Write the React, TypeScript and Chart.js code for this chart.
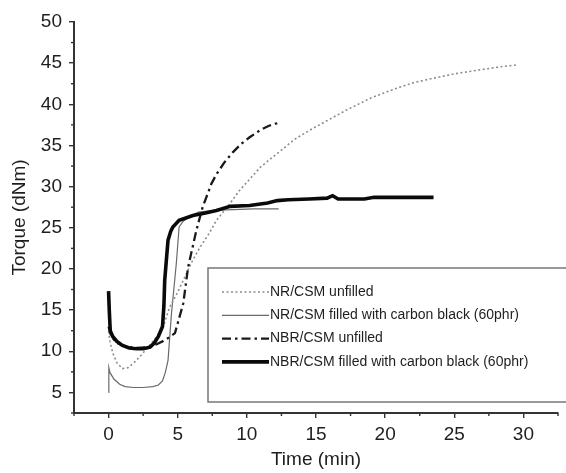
import React, { useEffect, useRef } from "react";
import { Chart, registerables } from "chart.js";

Chart.register(...registerables);

// ---------------- data ----------------
const seriesLabels = [
  "NR/CSM unfilled",
  "NR/CSM filled with carbon black (60phr)",
  "NBR/CSM unfilled",
  "NBR/CSM filled with carbon black (60phr)",
];

const nrUnfilledTime = [0, 0.1, 0.3, 0.6, 1.0, 1.4, 1.9, 2.4, 3.0, 3.5, 4.0, 4.4, 5.0, 5.4, 6.0, 6.6, 7.3, 7.8, 8.8, 9.5, 10.2, 11.0, 12.4, 13.5, 14.8, 16.0, 17.2, 19.0, 20.9, 22.0, 23.3, 25.0, 26.9, 28.5, 29.6];
const nrUnfilledTorque = [12.4, 11.2, 9.8, 8.6, 7.9, 8.0, 8.7, 9.6, 10.8, 11.8, 13.2, 15.3, 17.2, 18.6, 20.8, 22.6, 24.4, 25.9, 28.0, 29.6, 30.9, 32.4, 34.3, 35.8, 37.1, 38.2, 39.3, 40.8, 42.0, 42.6, 43.1, 43.7, 44.2, 44.6, 44.8];

const nrFilledTime = [0, 0.02, 0.1, 0.4, 0.8, 1.2, 1.8, 2.5, 3.2, 3.6, 3.9, 4.1, 4.3, 4.55, 4.9, 5.1, 5.4, 5.9, 6.5, 7.5, 9.0, 10.5, 12.3];
const nrFilledTorque = [5.0, 8.0, 7.4, 6.6, 6.0, 5.7, 5.6, 5.6, 5.7, 5.9, 6.4, 7.4, 8.9, 14.6, 20.7, 25.1, 25.8, 26.4, 26.9, 27.1, 27.2, 27.3, 27.3];

const nbrUnfilledTime = [0, 0.2, 0.6, 1.2, 2.0, 2.8, 3.4, 3.9, 4.4, 4.8, 5.4, 5.75, 6.35, 6.8, 7.45, 7.8, 8.4, 9.0, 9.6, 10.2, 11.0, 11.6, 12.2];
const nbrUnfilledTorque = [13.0, 11.8, 11.0, 10.6, 10.4, 10.5, 10.8, 11.2, 11.7, 12.2, 15.8, 20.2, 24.7, 27.5, 30.4, 31.5, 33.0, 34.2, 35.2, 36.0, 36.9, 37.4, 37.7];

const nbrFilledTime = [0, 0.05, 0.12, 0.3, 0.6, 1.0, 1.5, 2.0, 2.5, 3.0, 3.3, 3.6, 3.9, 4.0, 4.06, 4.2, 4.3, 4.5, 4.65, 5.1, 6.1, 7.0, 7.8, 8.8, 10.2, 11.5, 12.2, 13.0, 14.5, 15.8, 16.2, 16.6, 18.5, 19.2, 21.0, 23.5];
const nbrFilledTorque = [17.3, 15.0, 12.5, 11.8, 11.2, 10.7, 10.4, 10.3, 10.3, 10.5, 11.0, 11.8, 13.0, 15.5, 18.6, 21.5, 23.5, 24.6, 25.1, 25.9, 26.5, 26.8, 27.1, 27.6, 27.7, 28.0, 28.3, 28.4, 28.5, 28.6, 28.9, 28.5, 28.5, 28.7, 28.7, 28.7];

const xMajorTicks = [0, 5, 10, 15, 20, 25, 30];
const yMajorTicks = [5, 10, 15, 20, 25, 30, 35, 40, 45, 50];

const xTitle = "Time (min)";
const yTitle = "Torque (dNm)";

// ---------------- helpers ----------------
const toPoints = (t: number[], v: number[]) => t.map((x, i) => ({ x, y: v[i] }));

const seriesStyles = [
  { color: "#8c8c8c", width: 1.6, dash: [2, 2.5] },
  { color: "#6a6a6a", width: 1.2, dash: [] as number[] },
  { color: "#1a1a1a", width: 2.3, dash: [9, 4, 2.5, 4] },
  { color: "#0a0a0a", width: 3.6, dash: [] as number[] },
];

const minorTickPlugin = {
  id: "minorTicks",
  afterDraw(chart: any) {
    const { ctx } = chart;
    const xs = chart.scales.x;
    const ys = chart.scales.y;
    ctx.save();
    ctx.strokeStyle = "#333";
    ctx.lineWidth = 1.4;
    for (let v = xs.min; v <= xs.max + 1e-6; v += 2.5) {
      if (xMajorTicks.some((m) => Math.abs(m - v) < 1e-6)) continue;
      const px = xs.getPixelForValue(v);
      ctx.beginPath();
      ctx.moveTo(px, xs.top);
      ctx.lineTo(px, xs.top + 3);
      ctx.stroke();
    }
    for (let v = ys.min; v <= ys.max + 1e-6; v += 2.5) {
      if (yMajorTicks.some((m) => Math.abs(m - v) < 1e-6)) continue;
      const py = ys.getPixelForValue(v);
      ctx.beginPath();
      ctx.moveTo(ys.right, py);
      ctx.lineTo(ys.right - 3, py);
      ctx.stroke();
    }
    ctx.restore();
  },
};

const legendBoxPlugin = {
  id: "legendBox",
  afterDraw(chart: any) {
    const { ctx, chartArea, width } = chart;
    const left = chartArea.left + 134;
    const top = 268;
    const bottom = 402;
    ctx.save();
    ctx.fillStyle = "#ffffff";
    ctx.fillRect(left, top, width - left + 5, bottom - top);
    ctx.strokeStyle = "#777";
    ctx.lineWidth = 1.5;
    ctx.strokeRect(left, top, width - left + 5, bottom - top);
    ctx.font = "14px 'Liberation Sans', Arial, sans-serif";
    ctx.textBaseline = "middle";
    ctx.fillStyle = "#1e1e1e";
    seriesLabels.forEach((label, i) => {
      const y = 292 + i * 23.3;
      const st = seriesStyles[i];
      ctx.beginPath();
      ctx.strokeStyle = st.color;
      ctx.lineWidth = st.width;
      ctx.setLineDash(st.dash);
      ctx.moveTo(left + 14, y);
      ctx.lineTo(left + 61, y);
      ctx.stroke();
      ctx.setLineDash([]);
      ctx.fillText(label, left + 62, y);
    });
    ctx.restore();
  },
};

export default function App() {
  const ref = useRef<HTMLCanvasElement | null>(null);

  useEffect(() => {
    if (!ref.current) return;
    Chart.defaults.font.family = "'Liberation Sans', Arial, sans-serif";
    const series = [
      toPoints(nrUnfilledTime, nrUnfilledTorque),
      toPoints(nrFilledTime, nrFilledTorque),
      toPoints(nbrUnfilledTime, nbrUnfilledTorque),
      toPoints(nbrFilledTime, nbrFilledTorque),
    ];
    const orders = [2, 3, 1, 0];
    const chart = new Chart(ref.current, {
      type: "line",
      data: {
        datasets: series.map((data, i) => ({
          label: seriesLabels[i],
          data,
          borderColor: seriesStyles[i].color,
          borderWidth: seriesStyles[i].width,
          borderDash: seriesStyles[i].dash,
          pointRadius: 0,
          tension: 0,
          fill: false,
          order: orders[i],
        })),
      },
      options: {
        animation: false,
        responsive: false,
        layout: { padding: { top: 22, right: 8, left: 0, bottom: 0 } },
        plugins: { legend: { display: false }, tooltip: { enabled: false } },
        scales: {
          x: {
            type: "linear",
            min: -2.5,
            max: 32.5,
            afterBuildTicks: (s: any) => {
              s.ticks = xMajorTicks.map((value) => ({ value }));
            },
            afterFit: (s: any) => {
              s.height = 60;
            },
            grid: { display: true, drawOnChartArea: false, drawTicks: true, tickLength: 5, color: "#333", lineWidth: 1.4 },
            border: { display: true, color: "#333", width: 2 },
            ticks: { color: "#1e1e1e", font: { size: 19 }, padding: 5, maxRotation: 0, autoSkip: false },
            title: { display: true, text: xTitle, color: "#1e1e1e", font: { size: 19 }, padding: { top: 0, bottom: 2 } },
          },
          y: {
            type: "linear",
            min: 2.5,
            max: 50,
            afterBuildTicks: (s: any) => {
              s.ticks = yMajorTicks.map((value) => ({ value }));
            },
            afterFit: (s: any) => {
              s.width = 74;
            },
            grid: { display: true, drawOnChartArea: false, drawTicks: true, tickLength: 5, color: "#333", lineWidth: 1.4 },
            border: { display: true, color: "#333", width: 2 },
            ticks: { color: "#1e1e1e", font: { size: 19 }, padding: 7, autoSkip: false },
            title: { display: true, text: yTitle, color: "#1e1e1e", font: { size: 19 }, padding: { top: 8.5, bottom: 0 } },
          },
        },
      },
      plugins: [minorTickPlugin, legendBoxPlugin],
    });
    return () => chart.destroy();
  }, []);

  return (
    <div style={{ position: "absolute", left: 0, top: 0, width: 566, height: 473, background: "#fff" }}>
      <canvas ref={ref} width={566} height={473} style={{ display: "block" }} />
    </div>
  );
}
